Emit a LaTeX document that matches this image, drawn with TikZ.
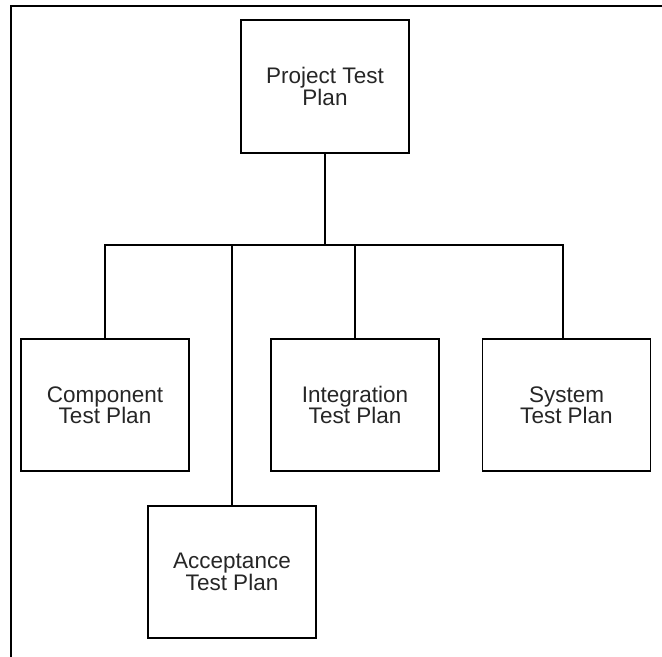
\documentclass[tikz,border=0pt]{standalone}
\usepackage{fontspec}
\setmainfont{Liberation Sans}
\begin{document}
\begin{tikzpicture}[x=1bp,y=-1bp,
  plan/.style={draw, line width=1.6bp, minimum width=168bp, minimum height=132bp,
    inner sep=0pt, align=center, font=\fontsize{22.5bp}{21.5bp}\selectfont, text=black!85},
  link/.style={line width=1.6bp},
  frame/.style={line width=1.3bp}]
\useasboundingbox (0,0) rectangle (662,657);
\draw[frame] (11,657) -- (11,6) -- (662,6);
\node[plan, minimum height=133bp] (proj) at (325,86.5) {Project Test\\Plan};
\node[plan] (comp) at (105,405) {Component\\Test Plan};
\node[plan] (integ) at (355,405) {Integration\\Test Plan};
\node[plan] (sys) at (566.5,405) {System\\Test Plan};
\node[plan] (acc) at (232,572) {Acceptance\\Test Plan};
\coordinate (bar) at (325,245);
\draw[link] (proj.south) -- (bar);
\draw[link] (comp.north) -- (comp.north |- bar) -- ([xshift=-3.5bp]sys.north |- bar) -- ([xshift=-3.5bp]sys.north);
\draw[link] (acc.north) -- (acc.north |- bar);
\draw[link] (integ.north) -- (integ.north |- bar);
\end{tikzpicture}
\end{document}
